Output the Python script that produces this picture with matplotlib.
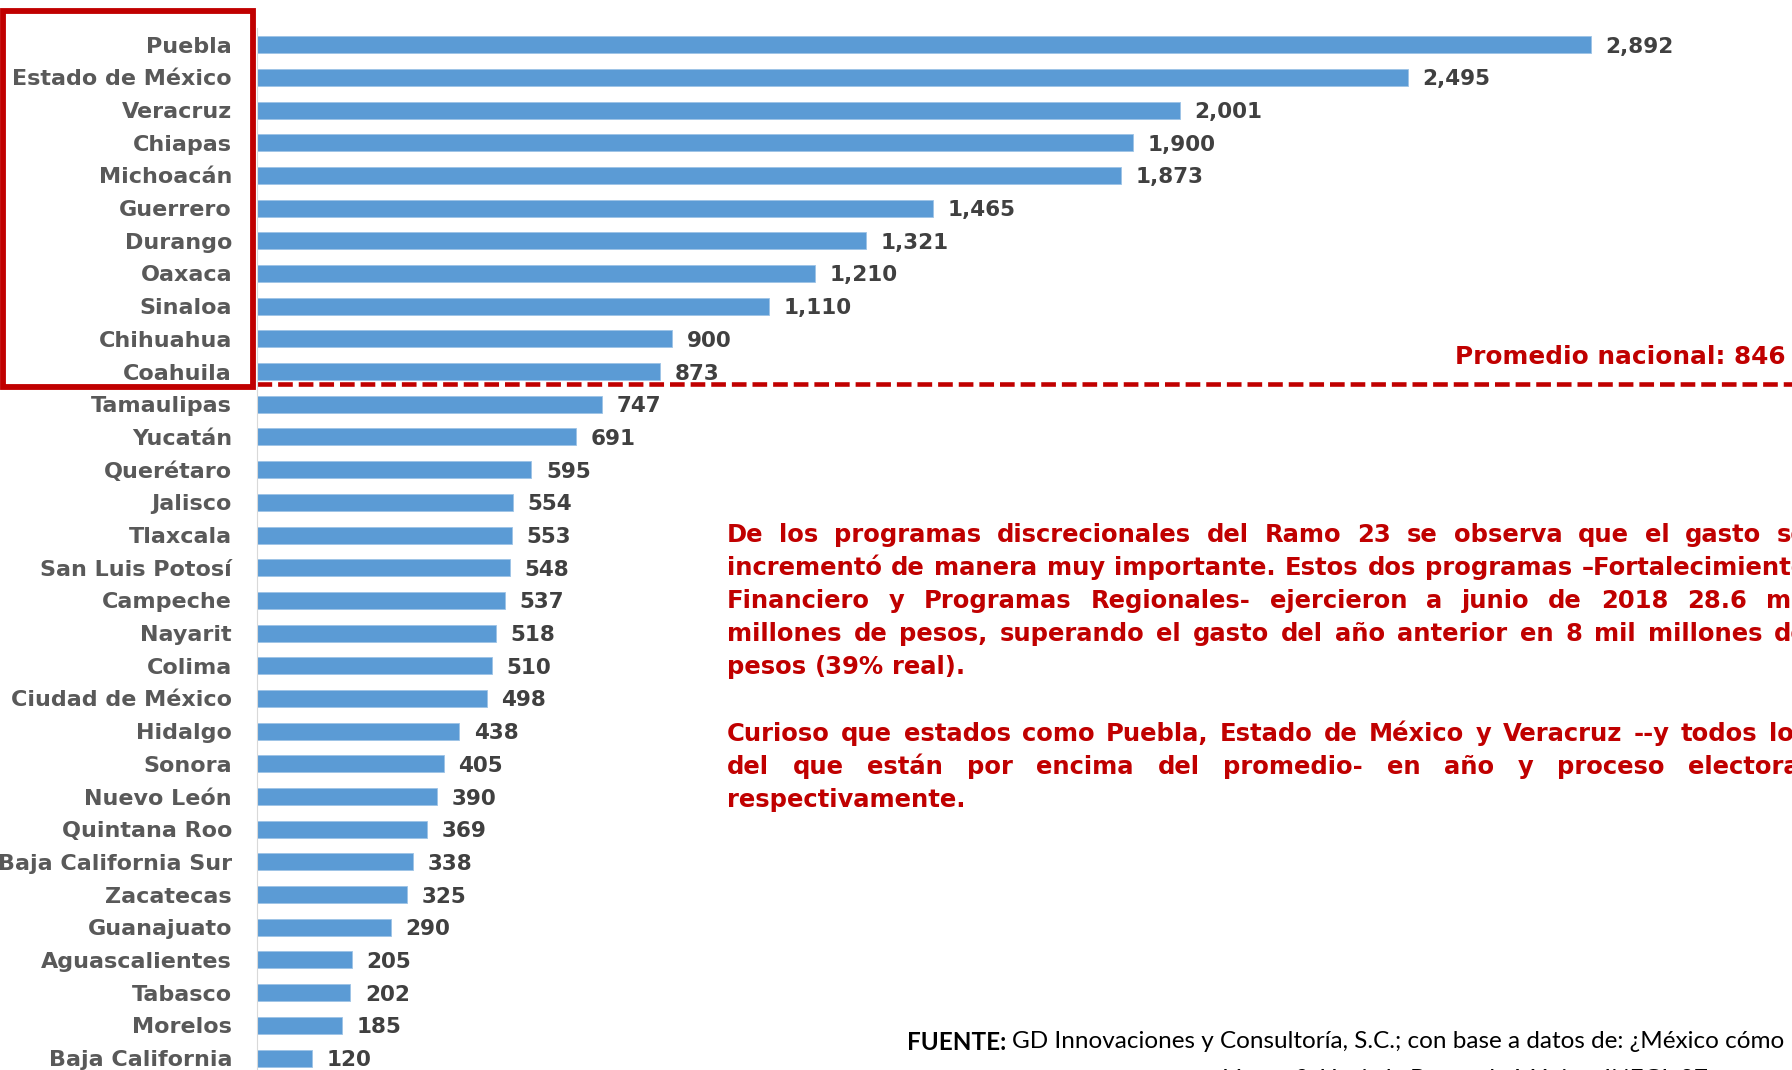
import matplotlib
matplotlib.use("Agg")
import matplotlib.pyplot as plt
from matplotlib.patches import Rectangle

plt.rcParams["font.family"] = ["DejaVu Sans"]

estados = ["Puebla", "Estado de México", "Veracruz", "Chiapas", "Michoacán",
           "Guerrero", "Durango", "Oaxaca", "Sinaloa", "Chihuahua", "Coahuila",
           "Tamaulipas", "Yucatán", "Querétaro", "Jalisco", "Tlaxcala",
           "San Luis Potosí", "Campeche", "Nayarit", "Colima", "Ciudad de México",
           "Hidalgo", "Sonora", "Nuevo León", "Quintana Roo", "Baja California Sur",
           "Zacatecas", "Guanajuato", "Aguascalientes", "Tabasco", "Morelos",
           "Baja California"]
valores = [2892, 2495, 2001, 1900, 1873, 1465, 1321, 1210, 1110, 900, 873,
           747, 691, 595, 554, 553, 548, 537, 518, 510, 498,
           438, 405, 390, 369, 338, 325, 290, 205, 202, 185, 120]
promedio = 846

parrafo1 = ["De los programas discrecionales del Ramo 23 se observa que el gasto se",
            "incrementó de manera muy importante. Estos dos programas –Fortalecimiento",
            "Financiero y Programas Regionales- ejercieron a junio de 2018 28.6 mil",
            "millones de pesos, superando el gasto del año anterior en 8 mil millones de",
            "pesos (39% real)."]
parrafo2 = ["Curioso que estados como Puebla, Estado de México y Veracruz --y todos los",
            "del que están por encima del promedio- en año y proceso electoral",
            "respectivamente."]
fuente = "GD Innovaciones y Consultoría, S.C.; con base a datos de: ¿México cómo"
fuente2 = "Vamos?, Hacia la Banca de México, INEGI, 27 agosto"

ROJO = "#C00000"
W, H = 1792, 1070
fig = plt.figure(figsize=(W / 100, H / 100), dpi=100)

# eje: barras desde x=257 px, una fila cada ~32.7 px
ax = fig.add_axes([257 / W, -4.4 / H, (W - 257) / W, 1046.1 / H])
n = len(estados)
ax.barh(range(n), valores, height=0.52, color="#5B9BD5", edgecolor="#9DC3E6", linewidth=0.6)
ax.set_ylim(n - 0.5, -0.5)
ax.set_xlim(0, (W - 257) / 0.4613)
ax.set_yticks(range(n), estados)
ax.set_xticks([])
ax.tick_params(axis="y", length=0, pad=18, labelsize=16, labelcolor="#595959")
for lbl in ax.get_yticklabels():
    lbl.set_fontweight("bold")
for s in ["top", "right", "bottom"]:
    ax.spines[s].set_visible(False)
ax.spines["left"].set_color("#D9D9D9")

for i, v in enumerate(valores):
    ax.annotate(f"{v:,}", (v, i), xytext=(10.5, 0), textcoords="offset points",
                va="center_baseline", ha="left", fontsize=15.5, fontweight="bold",
                color="#404040")

# linea del promedio
ax.axhline(10.38, color=ROJO, lw=3.3, dashes=(3.2, 1.3))
fig.text(1786 / W, 1 - 364 / H, f"Promedio nacional: {promedio}", ha="right", va="baseline",
         color=ROJO, fontsize=17.8, fontweight="bold")

# recuadro rojo
fig.add_artist(Rectangle((3 / W, 1 - 387 / H), 250 / W, 376 / H, transform=fig.transFigure,
                         fill=False, ec=ROJO, lw=4.2))

r = fig.canvas.get_renderer()


def ancho(txt, **kw):
    t = fig.text(0, 0, txt, **kw)
    w = t.get_window_extent(r).width
    t.remove()
    return w


estilo = dict(fontsize=17.5, fontweight="bold", color=ROJO)


def justificar(lineas, x0, x1, y0, dy):
    esp = ancho("a a", **estilo) - ancho("aa", **estilo)
    for k, linea in enumerate(lineas):
        palabras = linea.split()
        anchos = [ancho(p, **estilo) for p in palabras]
        if k == len(lineas) - 1 or len(palabras) < 2:
            gap = esp
        else:
            gap = max(esp * 0.6, (x1 - x0 - sum(anchos)) / (len(palabras) - 1))
        x = x0
        y = y0 + k * dy
        for p, w in zip(palabras, anchos):
            fig.text(x / W, 1 - y / H, p, va="baseline", ha="left", **estilo)
            x += w + gap


justificar(parrafo1, 727, 1808, 542, 33.1)
justificar(parrafo2, 727, 1808, 741, 33.1)

# fuente
pie = dict(fontsize=17.5, color="black", family=["Lato", "DejaVu Sans"])
fig.text(907 / W, 1 - 1042 / H, "FUENTE:", va="center", ha="left", fontweight="bold", **pie)
wb = ancho("FUENTE: ", fontweight="bold", **pie)
fig.text((907 + wb) / W, 1 - 1042 / H, fuente, va="center", ha="left", **pie)
fig.text(1786 / W, 1 - 1086 / H, fuente2, va="baseline", ha="right", **pie)

fig.savefig("out.png", dpi=100)
